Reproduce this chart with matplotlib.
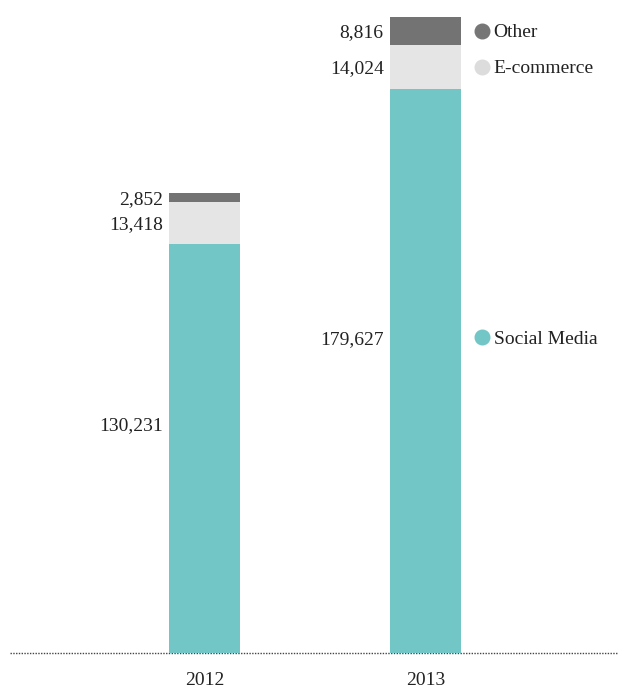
import matplotlib
matplotlib.use("Agg")
import matplotlib.pyplot as plt
import numpy as np

# data
years = ["2012", "2013"]
social = [130231, 179627]
ecommerce = [13418, 14024]
other = [2852, 8816]
series_names = ["Social Media", "E-commerce", "Other"]
colors = ["#72c6c6", "#e5e5e5", "#737373"]
dot_colors = ["#72c6c6", "#dcdcdc", "#767676"]

plt.rcParams["font.family"] = ["Liberation Serif", "DejaVu Serif"]

W, H = 618, 689
fig = plt.figure(figsize=(W / 100, H / 100), dpi=100)
# axes box in pixels: left 10, right 617, bottom 653 (baseline), top 17
ax = fig.add_axes([10 / W, (H - 653) / H, 607 / W, 636 / H])

x = np.arange(len(years))
bw = 71 / 221
totals = np.array(social) + np.array(ecommerce) + np.array(other)

stack = [social, ecommerce, other]
bottom = np.zeros(len(years))
for vals, col in zip(stack, colors):
    ax.bar(x, vals, bw, bottom=bottom, color=col, zorder=2)
    bottom = bottom + np.array(vals)

ax.set_xlim(-(204.5 - 10) / 221, 1 + (617 - 425.5) / 221)
ax.set_ylim(0, totals.max())

# value labels left of each segment
fs = 14
for i in range(len(years)):
    base = 0
    for k, vals in enumerate(stack):
        v = vals[i]
        frac = 0.56 if k == 0 else 0.5
        ax.annotate(f"{v:,}", xy=(x[i] - bw / 2, base + v * frac),
                    xytext=(-4.5, -1.5), textcoords="offset points",
                    ha="right", va="center", fontsize=fs, color="#222222")
        base += v

# legend-style labels next to last bar
last = len(years) - 1
base = 0
for k, vals in enumerate(stack):
    v = vals[last]
    frac = 0.56 if k == 0 else 0.5
    yy = base + v * frac
    ax.plot([x[last] + bw / 2 + 20.7 / 221], [yy], "o", ms=10.5,
            color=dot_colors[k], clip_on=False, zorder=3)
    ax.annotate(series_names[k], xy=(x[last] + bw / 2, yy),
                xytext=(23.5, -1.5), textcoords="offset points",
                ha="left", va="center", fontsize=fs, color="#222222")
    base += v

ax.axhline(0, color="#444444", linestyle=(0, (1, 1)), linewidth=1.0,
           zorder=1, clip_on=False)

ax.set_xticks(x)
ax.set_xticklabels(years, fontsize=fs, color="#222222")
ax.tick_params(axis="x", length=0, pad=14)
ax.set_yticks([])
for s in ax.spines.values():
    s.set_visible(False)

fig.savefig("out.png", dpi=100)
